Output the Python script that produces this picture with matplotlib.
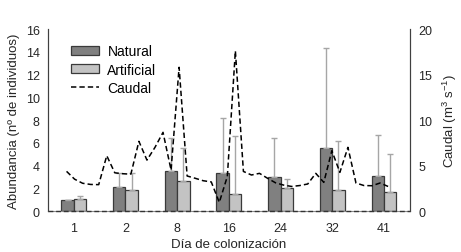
import matplotlib
matplotlib.use("Agg")
import matplotlib.pyplot as plt
import numpy as np

plt.rcParams['font.family'] = ['Liberation Sans', 'DejaVu Sans']
plt.rcParams['mathtext.default'] = 'regular'

# data
dias = ['1', '2', '8', '16', '24', '32', '41']
natural = [1.0, 2.1, 3.5, 3.3, 3.0, 5.5, 3.1]
natural_err = [0.0, 1.2, 2.95, 4.9, 3.45, 8.8, 3.6]
artificial = [1.1, 1.85, 2.6, 1.5, 2.05, 1.85, 1.7]
artificial_err = [0.2, 1.45, 2.9, 5.1, 0.75, 4.35, 3.3]

# caudal diario, dias 1..41 (m3/s)
caudal = [4.36, 3.5, 3.05, 2.92, 2.9, 6.08, 4.2, 4.1, 4.05, 7.66,
          5.6, 7.0, 8.65, 4.5, 15.8, 3.85, 3.6, 3.33, 3.2, 0.95,
          3.8, 17.6, 4.35, 3.96, 4.14, 3.6, 3.1, 2.85, 2.7, 2.8,
          2.97, 4.14, 3.15, 6.63, 4.25, 7.0, 3.08, 2.8, 2.78, 3.08, 2.7]

fig = plt.figure(figsize=(4.61, 2.53), dpi=100)
ax = fig.add_axes([0.104, 0.162, 0.785, 0.719])
ax2 = ax.twinx()

x = np.arange(len(dias)) + 0.5
w = 0.24
ekw = dict(ecolor='#a6a6a6', elinewidth=1.0, capsize=2.5, capthick=1.0)
ax.bar(x - w / 2, natural, w, color='#808080', edgecolor='#3a3a3a', linewidth=0.9,
       yerr=[np.zeros(len(natural)), natural_err], error_kw=ekw, label='Natural', zorder=2)
ax.bar(x + w / 2, artificial, w, color='#c3c3c3', edgecolor='#3a3a3a', linewidth=0.9,
       yerr=[np.zeros(len(artificial)), artificial_err], error_kw=ekw, label='Artificial', zorder=2)

xc = np.linspace(0.36, 6.58, len(caudal))
ax2.plot(xc, caudal, color='black', linestyle='--', linewidth=1.1, dashes=(3.5, 2), label='Caudal')
ax2.axhline(0, color='#333333', linestyle='--', dashes=(3.5, 2), linewidth=1.0, clip_on=False)

ax.set_xlim(0, 7)
ax.set_ylim(0, 16)
ax.set_yticks(range(0, 17, 2))
ax2.set_ylim(0, 20)
ax2.set_yticks(range(0, 21, 5))
ax.set_xticks(x)
ax.set_xticklabels(dias)

for a in (ax, ax2):
    a.spines['top'].set_visible(False)
    a.spines['left'].set_color('#404040')
    a.spines['right'].set_color('#404040')
    a.spines['bottom'].set_color('#8c8c8c')
    a.tick_params(length=0, labelsize=9, colors='#262626', pad=6)
ax.tick_params(axis='x', pad=8)
ax2.spines['bottom'].set_visible(False)

ax.set_ylabel('Abundancia (nº de individuos)', fontsize=9.5, color='#262626', labelpad=4)
ax2.set_ylabel('Caudal (m$^{3}$ s$^{-1}$)', fontsize=9.5, color='#262626', labelpad=6)
ax.set_xlabel('Día de colonización', fontsize=9.5, color='#262626', labelpad=3)

h1, l1 = ax.get_legend_handles_labels()
h2, l2 = ax2.get_legend_handles_labels()
ax.legend(h1 + h2, l1 + l2, loc='upper left', bbox_to_anchor=(0.03, 0.985), frameon=False,
          fontsize=10, handlelength=2.0, handleheight=0.55, labelspacing=0.3,
          handletextpad=0.6)

fig.savefig('out.png', dpi=100)
